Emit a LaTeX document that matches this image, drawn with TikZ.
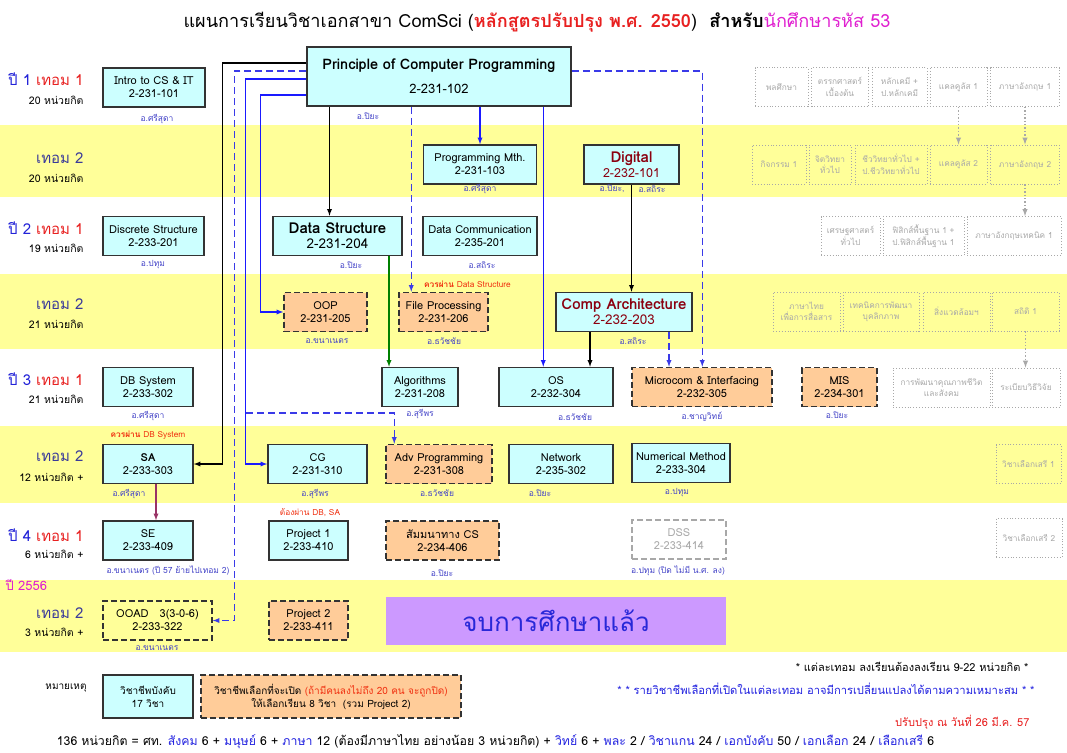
\documentclass[tikz,border=0pt]{standalone}
\usepackage{fontspec}
\setmainfont[Script=Thai]{Loma}
\definecolor{corefill}{HTML}{CCFFFF}
\definecolor{electfill}{HTML}{FFCC99}
\definecolor{band}{HTML}{FFFF99}
\definecolor{endfill}{HTML}{CC99FF}
\definecolor{profcol}{HTML}{4444C8}
\definecolor{termred}{HTML}{E82020}
\definecolor{yearblue}{HTML}{2222D8}
\definecolor{termtwo}{HTML}{3A3A9A}
\definecolor{maroon}{HTML}{8B0010}
\definecolor{geblue}{HTML}{2222E0}
\definecolor{gegray}{HTML}{A8A8A8}
\definecolor{magent}{HTML}{E020D0}
\definecolor{warncol}{HTML}{F03010}
\definecolor{linkblue}{HTML}{1A1AFF}
\definecolor{dashblue}{HTML}{3A3AE8}
\definecolor{gradblue}{HTML}{2828D8}
\definecolor{seline}{HTML}{993366}
\newcommand{\gehl}[1]{\textcolor{geblue}{#1}}

\begin{document}
\begin{tikzpicture}[x=1pt, y=-1pt,
  box/.style={draw=black!80, line width=1.5pt, align=center, inner sep=1pt, minimum height=39, font=\fontsize{11}{13}\selectfont},
  core/.style={box, fill=corefill},
  elect/.style={box, fill=electfill, dash pattern=on 6pt off 3pt},
  gened/.style={draw=gegray, dotted, line width=0.9pt, text=gegray, align=center, inner sep=1pt, minimum height=39, font=\fontsize{8.3}{11.5}\selectfont},
  prof/.style={text=profcol, font=\fontsize{8.5}{10}\selectfont},
  warn/.style={text=warncol, font=\fontsize{8.3}{10}\selectfont},
  term/.style={anchor=east, font=\fontsize{15}{17}\selectfont},
  credit/.style={anchor=east, font=\fontsize{10.5}{12}\selectfont},
  dep/.style={-latex, line width=1.3pt},
  dashdep/.style={dep, dash pattern=on 7pt off 4pt},
  gedep/.style={-latex, gegray, dotted, line width=1.4pt}]
\useasboundingbox (0,0) rectangle (1067,752);
\fill[white] (0,0) rectangle (1067,752);
\foreach \top/\bot in {125/197, 274/349, 426/503, 580/652}
  \fill[band] (0,\top) rectangle (1067,\bot);

\node[font=\fontsize{18.1}{20}\selectfont] (title) at (537,22) {แผนการเรียนวิชาเอกสาขา ComSci (\textcolor{termred}{\bfseries หลักสูตรปรับปรุง พ.ศ. 2550})~~\textbf{สำหรับ}\textcolor{magent}{นักศึกษารหัส 53}};

\node[term] (t11) at (87,79) {\textcolor{yearblue}{ปี 1} \textcolor{termred}{เทอม 1}};
\node[credit] (c11) at (87,100) {20 หน่วยกิต};
\node[term, text=termtwo] (t12) at (87,158) {เทอม 2};
\node[credit] (c12) at (87,178) {20 หน่วยกิต};
\node[term] (t21) at (87,228) {\textcolor{yearblue}{ปี 2} \textcolor{termred}{เทอม 1}};
\node[credit] (c21) at (87,248) {19 หน่วยกิต};
\node[term, text=termtwo] (t22) at (87,304) {เทอม 2};
\node[credit] (c22) at (87,324) {21 หน่วยกิต};
\node[term] (t31) at (87,379) {\textcolor{yearblue}{ปี 3} \textcolor{termred}{เทอม 1}};
\node[credit] (c31) at (87,399) {21 หน่วยกิต};
\node[term, text=termtwo] (t32) at (87,456) {เทอม 2};
\node[credit] (c32) at (87,477) {12 หน่วยกิต +};
\node[term] (t41) at (87,535) {\textcolor{yearblue}{ปี 4} \textcolor{termred}{เทอม 1}};
\node[credit] (c41) at (87,554) {6 หน่วยกิต +};
\node[anchor=west, text=magent, font=\fontsize{13}{15}\selectfont] (y56) at (2,585) {ปี 2556};
\node[term, text=termtwo] (t42) at (87,613) {เทอม 2};
\node[credit] (c42) at (87,632) {3 หน่วยกิต +};

\node[core, minimum width=102] (intro) at (154,87.5) {Intro to CS \& IT\\2-231-101};
\node[prof] (introp) at (157,119) {อ.ศรีสุดา};
\node[core, minimum width=264, minimum height=59] (pcp) at (439,76.5) {\fontsize{14.5}{15}\selectfont\bfseries Principle of Computer Programming\\[11pt]\fontsize{13}{15}\selectfont 2-231-102};
\node[prof] (pcpp) at (368,116) {อ.ปิยะ};

\node[core, minimum width=113] (pm) at (480,164.5) {Programming Mth.\\2-231-103};
\node[prof] (pmp) at (480,189) {อ.ศรีสุดา};
\node[core, minimum width=95, text=maroon, font=\fontsize{12.5}{15}\selectfont] (dig) at (631.5,164.5) {\fontsize{15}{15}\selectfont\textbf{Digital}\\2-232-101};
\node[prof, anchor=east] (digp1) at (628,189) {อ.ปิยะ,};
\node[prof, anchor=west] (digp2) at (635,189) {อ.สถิระ};

\node[core, minimum width=101] (disc) at (153.5,236) {Discrete Structure\\2-233-201};
\node[prof] (discp) at (153,265) {อ.ปทุม};
\node[core, minimum width=129, font=\fontsize{13.5}{15}\selectfont] (ds) at (337.5,236) {\fontsize{15}{15}\selectfont\textbf{Data Structure}\\2-231-204};
\node[prof] (dsp) at (351,265) {อ.ปิยะ};
\node[core, minimum width=114] (dcom) at (480,236) {Data Communication\\2-235-201};
\node[prof] (dcomp) at (482,265) {อ.สถิระ};

\node[elect, minimum width=83] (oop) at (325.5,312) {OOP\\2-231-205};
\node[prof] (oopp) at (327,341) {อ.ขนาเนตร};
\node[warn] (fpw) at (467.5,284) {\textbf{ควรผ่าน} Data Structure};
\node[elect, minimum width=89] (fp) at (443.5,312) {File Processing\\2-231-206};
\node[prof] (fpp) at (444,341) {อ.ธวัชชัย};
\node[core, minimum width=136, text=maroon, font=\fontsize{13.5}{15}\selectfont] (ca) at (624,312) {\fontsize{15}{15}\selectfont\textbf{Comp Architecture}\\2-232-203};
\node[prof] (cap) at (633,341) {อ.สถิระ};

\node[core, minimum width=90] (db) at (148,387) {DB System\\2-233-302};
\node[prof] (dbp) at (148,416) {อ.ศรีสุดา};
\node[core, minimum width=76] (algo) at (420,387) {Algorithms\\2-231-208};
\node[prof] (algop) at (420,414) {อ.สุรีพร};
\node[core, minimum width=114] (os) at (556,387) {OS\\2-232-304};
\node[prof] (osp) at (575,417) {อ.ธวัชชัย};
\node[elect, minimum width=140] (micro) at (702,387) {Microcom \& Interfacing\\2-232-305};
\node[prof] (microp) at (702,417) {อ.ชาญวิทย์};
\node[elect, minimum width=75] (mis) at (839.5,387) {MIS\\2-234-301};
\node[prof] (misp) at (837,415) {อ.ปิยะ};

\node[warn] (saw) at (148,435.5) {\textbf{ควรผ่าน} DB System};
\node[core, minimum width=90] (sa) at (148,464) {\textbf{SA}\\2-233-303};
\node[prof] (sap) at (129,494) {อ.ศรีสุดา};
\node[core, minimum width=99] (cg) at (317.5,464) {CG\\2-231-310};
\node[prof] (cgp) at (315,494) {อ.สุรีพร};
\node[elect, minimum width=106] (adv) at (439,464) {Adv Programming\\2-231-308};
\node[prof] (advp) at (437,493) {อ.ธวัชชัย};
\node[core, minimum width=104] (net) at (561,464) {Network\\2-235-302};
\node[prof] (netp) at (540,493) {อ.ปิยะ};
\node[core, minimum width=98] (num) at (681,463) {Numerical Method\\2-233-304};
\node[prof] (nump) at (677,493) {อ.ปทุม};

\node[core, minimum width=90] (se) at (148,540.5) {SE\\2-233-409};
\node[prof] (sep) at (168,571) {อ.ขนาเนตร (ปี 57 ย้ายไปเทอม 2)};
\node[warn] (p1w) at (310,513) {ต้องผ่าน DB, SA};
\node[core, minimum width=79] (proj1) at (308.5,540.5) {Project 1\\2-233-410};
\node[elect, minimum width=113] (sem) at (442.5,540.5) {สัมมนาทาง CS\\2-234-406};
\node[prof] (semp) at (442,573) {อ.ปิยะ};
\node[box, draw=gegray, text=gegray, line width=1.1pt, dash pattern=on 6pt off 3pt, minimum width=94] (dss) at (679,539.5) {DSS\\2-233-414};
\node[prof] (dssp) at (678,571) {อ.ปทุม (ปิด ไม่มี น.ศ. ลง)};

\node[box, dash pattern=on 6pt off 3pt, minimum width=109] (ooad) at (157.5,620.5) {OOAD\quad 3(3-0-6)\\2-233-322};
\node[prof] (ooadp) at (157,648) {อ.ขนาเนตร};
\node[elect, minimum width=79] (proj2) at (308.5,620.5) {Project 2\\2-233-411};
\node[fill=endfill, minimum width=340, minimum height=48, text=gradblue, font=\fontsize{26}{30}\selectfont] (grad) at (556,621) {จบการศึกษาแล้ว};

\node[gened, minimum width=53] (pe) at (781.5,87) {พลศึกษา};
\node[gened, minimum width=57] (logic) at (840,87) {ตรรกศาสตร์\\เบื้องต้น};
\node[gened, minimum width=55] (chem) at (899.5,87) {หลักเคมี +\\ป.หลักเคมี};
\node[gened, minimum width=57] (calc1) at (958.5,87) {แคลคูลัส 1};
\node[gened, minimum width=69] (eng1) at (1025,87) {ภาษาอังกฤษ 1};
\node[gened, minimum width=54] (act) at (779,164.5) {กิจกรรม 1};
\node[gened, minimum width=42] (psy) at (830,164.5) {จิตวิทยา\\ทั่วไป};
\node[gened, minimum width=72] (bio) at (891,164.5) {ชีววิทยาทั่วไป +\\ป.ชีววิทยาทั่วไป};
\node[gened, minimum width=57] (calc2) at (958.5,164.5) {แคลคูลัส 2};
\node[gened, minimum width=69] (eng2) at (1025,164.5) {ภาษาอังกฤษ 2};
\node[gened, minimum width=59] (econ) at (850.5,236) {เศรษฐศาสตร์\\ทั่วไป};
\node[gened, minimum width=81] (phys) at (923.5,236) {ฟิสิกส์พื้นฐาน 1 +\\ป.ฟิสิกส์พื้นฐาน 1};
\node[gened, minimum width=94] (tech) at (1014,236) {ภาษาอังกฤษเทคนิค 1};
\node[gened, minimum width=67] (thai) at (806.5,311.5) {ภาษาไทย\\เพื่อการสื่อสาร};
\node[gened, minimum width=76] (pers) at (881,311.5) {เทคนิคการพัฒนา\\บุคลิกภาพ};
\node[gened, minimum width=67] (env) at (956.5,311.5) {สิ่งแวดล้อมฯ};
\node[gened, minimum width=67] (stat) at (1025.5,311.5) {สถิติ 1};
\node[gened, minimum width=97] (qol) at (941.5,387.5) {การพัฒนาคุณภาพชีวิต\\และสังคม};
\node[gened, minimum width=68] (res) at (1026,387.5) {ระเบียบวิธีวิจัย};
\node[gened, minimum width=65] (free1) at (1028.5,464) {วิชาเลือกเสรี 1};
\node[gened, minimum width=66] (free2) at (1029,538) {วิชาเลือกเสรี 2};

\draw[gedep] (calc1) -- (calc2);
\draw[gedep] (eng1) -- (eng2);
\draw[gedep] (eng2.south) -- (eng2.south |- tech.north);
\draw[gedep] (stat) -- (stat.south |- res.north);

\draw[dep] ([yshift=13.5pt]pcp.west) -- ++(-84,0) |- (sa.east);
\draw[dashdep, dashblue] ([yshift=5.5pt]pcp.west) -- ++(-72,0) |- (ooad.east);
\draw[dep, linkblue] ([yshift=-2.5pt]pcp.west) -- ++(-61,0) |- (cg.west);
\draw[dep, linkblue] ([yshift=-18.5pt]pcp.west) -- ++(-46,0) |- (oop.west);
\coordinate (advfork) at (246,413);
\coordinate (advin) at ([xshift=9pt]adv.north west);
\draw[dashdep, dashblue] (advfork) -| (advin);

\coordinate (dsin) at ([xshift=-8pt]ds.north);
\coordinate (fpin) at ([xshift=13pt]fp.north west);
\coordinate (osin) at ([xshift=45pt]os.north west);
\coordinate (microin) at ([xshift=71pt]micro.north west);
\draw[dep] (pcp.south -| dsin) -- (dsin);
\draw[dashdep, dashblue] (pcp.south -| fpin) -- (fpin);
\draw[dep, linkblue] (pcp.south -| pm.north) -- (pm.north);
\draw[dep, linkblue] (pcp.south -| osin) -- (osin);
\draw[dashdep, dashblue] ([yshift=5.5pt]pcp.east) -| (microin);

\draw[dep] (dig.south) -- (dig.south |- ca.north);
\coordinate (caos) at ([xshift=-34pt]ca.south);
\coordinate (camic) at ([xshift=45pt]ca.south);
\draw[dep] (caos) -- (caos |- os.north);
\draw[dashdep, dashblue] (camic) -- (camic |- micro.north);
\coordinate (dsal) at ([xshift=51.5pt]ds.south);
\draw[dep, green!50!black] (dsal) -- (dsal |- algo.north);
\coordinate (sase) at ([xshift=8pt]sa.south);
\draw[dep, seline] (sase) -- (sase |- se.north);

\node[font=\fontsize{10}{12}\selectfont] (remark) at (66,688) {หมายเหตุ};
\node[core, minimum width=90, minimum height=43, font=\fontsize{10}{13}\selectfont] (legco) at (148,696.5) {วิชาชีพบังคับ\\17 วิชา};
\node[elect, minimum width=260, minimum height=43, font=\fontsize{10}{13}\selectfont] (legel) at (331,696.5) {วิชาชีพเลือกที่จะเปิด \textcolor{warncol}{(ถ้ามีคนลงไม่ถึง 20 คน จะถูกปิด)}\\ให้เลือกเรียน 8 วิชา~~(รวม Project 2)};
\node[anchor=east, font=\fontsize{11}{13}\selectfont] (note1) at (1032,667) {* แต่ละเทอม ลงเรียนต้องลงเรียน 9-22 หน่วยกิต *};
\node[anchor=east, text=geblue, font=\fontsize{11.2}{13}\selectfont] (note2) at (1038,689) {* * รายวิชาชีพเลือกที่เปิดในแต่ละเทอม อาจมีการเปลี่ยนแปลงได้ตามความเหมาะสม * *};
\node[anchor=east, text=termred, font=\fontsize{11}{13}\selectfont] (upd) at (1033,722) {ปรับปรุง ณ วันที่ 26 มี.ค. 57};
\node[font=\fontsize{12.3}{14}\selectfont] (total) at (495.5,742) {136 หน่วยกิต = ศท. \gehl{สังคม} 6 + \gehl{มนุษย์} 6 + \gehl{ภาษา} 12 (ต้องมีภาษาไทย อย่างน้อย 3 หน่วยกิต) + \gehl{วิทย์} 6 + \gehl{พละ} 2 / \gehl{วิชาแกน} 24 / \gehl{เอกบังคับ} 50 / \gehl{เอกเลือก} 24 / \gehl{เลือกเสรี} 6};
\end{tikzpicture}
\end{document}
